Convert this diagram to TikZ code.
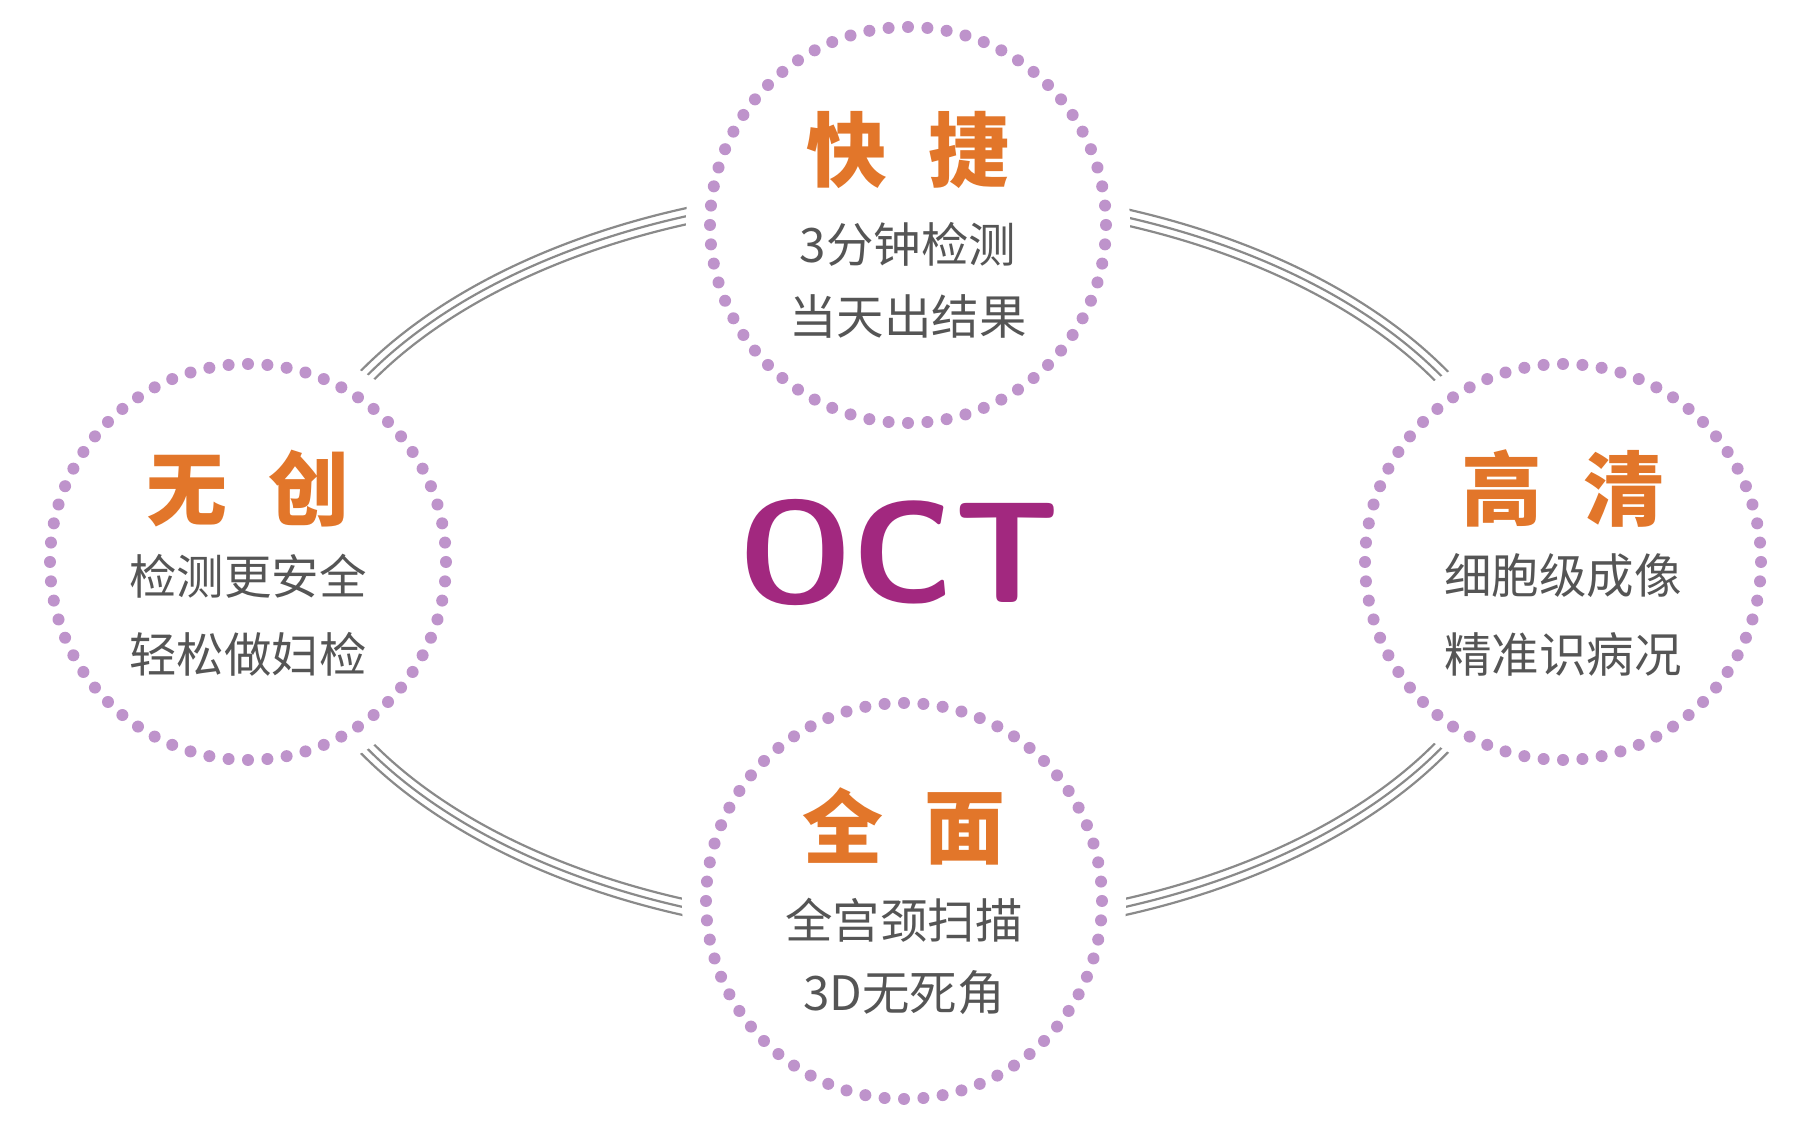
\documentclass[tikz,border=0pt]{standalone}
\usepackage{fontspec}
\setmainfont{Noto Sans CJK SC}
\definecolor{dotc}{HTML}{BE93CB}
\definecolor{ttl}{HTML}{E2762A}
\definecolor{sub}{HTML}{555555}
\definecolor{octc}{HTML}{A2287F}
\definecolor{ringc}{HTML}{8A8A8A}
\tikzset{
  ttlstyle/.style={text=ttl,font=\fontsize{23pt}{26pt}\selectfont\bfseries,inner sep=0},
  substyle/.style={text=sub,font=\fontsize{13.5pt}{16pt}\selectfont,inner sep=0},
  ring/.style={draw=ringc,line width=0.022cm}
}
\begin{document}
\begin{tikzpicture}
\useasboundingbox (0,0) rectangle (18.06,11.30);
\fill[white] (0,0) rectangle (18.06,11.30);
\foreach \d in {-0.08,0,0.08}{
  \draw[ring] (9.04,5.68) ellipse [x radius=6.22+\d, y radius=3.69+\d];
}
\foreach \n/\cx/\cy in {t/9.08/9.05,l/2.48/5.68,r/15.63/5.68,b/9.04/2.29}{
  \fill[white] (\cx,\cy) circle (2.22);
  \coordinate (\n) at (\cx,\cy);
  \foreach \k in {0,...,63}{
    \fill[dotc] ([shift={(\k*5.625:1.98)}]\n) circle (0.06);
  }
}
\node[text=octc,font=\fontsize{41pt}{44pt}\selectfont\bfseries\sffamily,inner sep=0] (oct) at (8.99,5.77) {OCT};
\node[ttlstyle] (t1) at (9.08,9.80) {快\hspace{0.5em}捷};
\node[substyle] (t2) at (9.08,8.86) {3分钟检测};
\node[substyle] (t3) at (9.08,8.13) {当天出结果};
\node[ttlstyle] (l1) at (2.48,6.41) {无\hspace{0.5em}创};
\node[substyle] (l2) at (2.48,5.54) {检测更安全};
\node[substyle] (l3) at (2.48,4.76) {轻松做妇检};
\node[ttlstyle] (r1) at (15.63,6.41) {高\hspace{0.5em}清};
\node[substyle] (r2) at (15.63,5.54) {细胞级成像};
\node[substyle] (r3) at (15.63,4.76) {精准识病况};
\node[ttlstyle] (b1) at (9.04,3.04) {全\hspace{0.5em}面};
\node[substyle] (b2) at (9.04,2.10) {全宫颈扫描};
\node[substyle] (b3) at (9.04,1.37) {3D无死角};
\end{tikzpicture}
\end{document}
